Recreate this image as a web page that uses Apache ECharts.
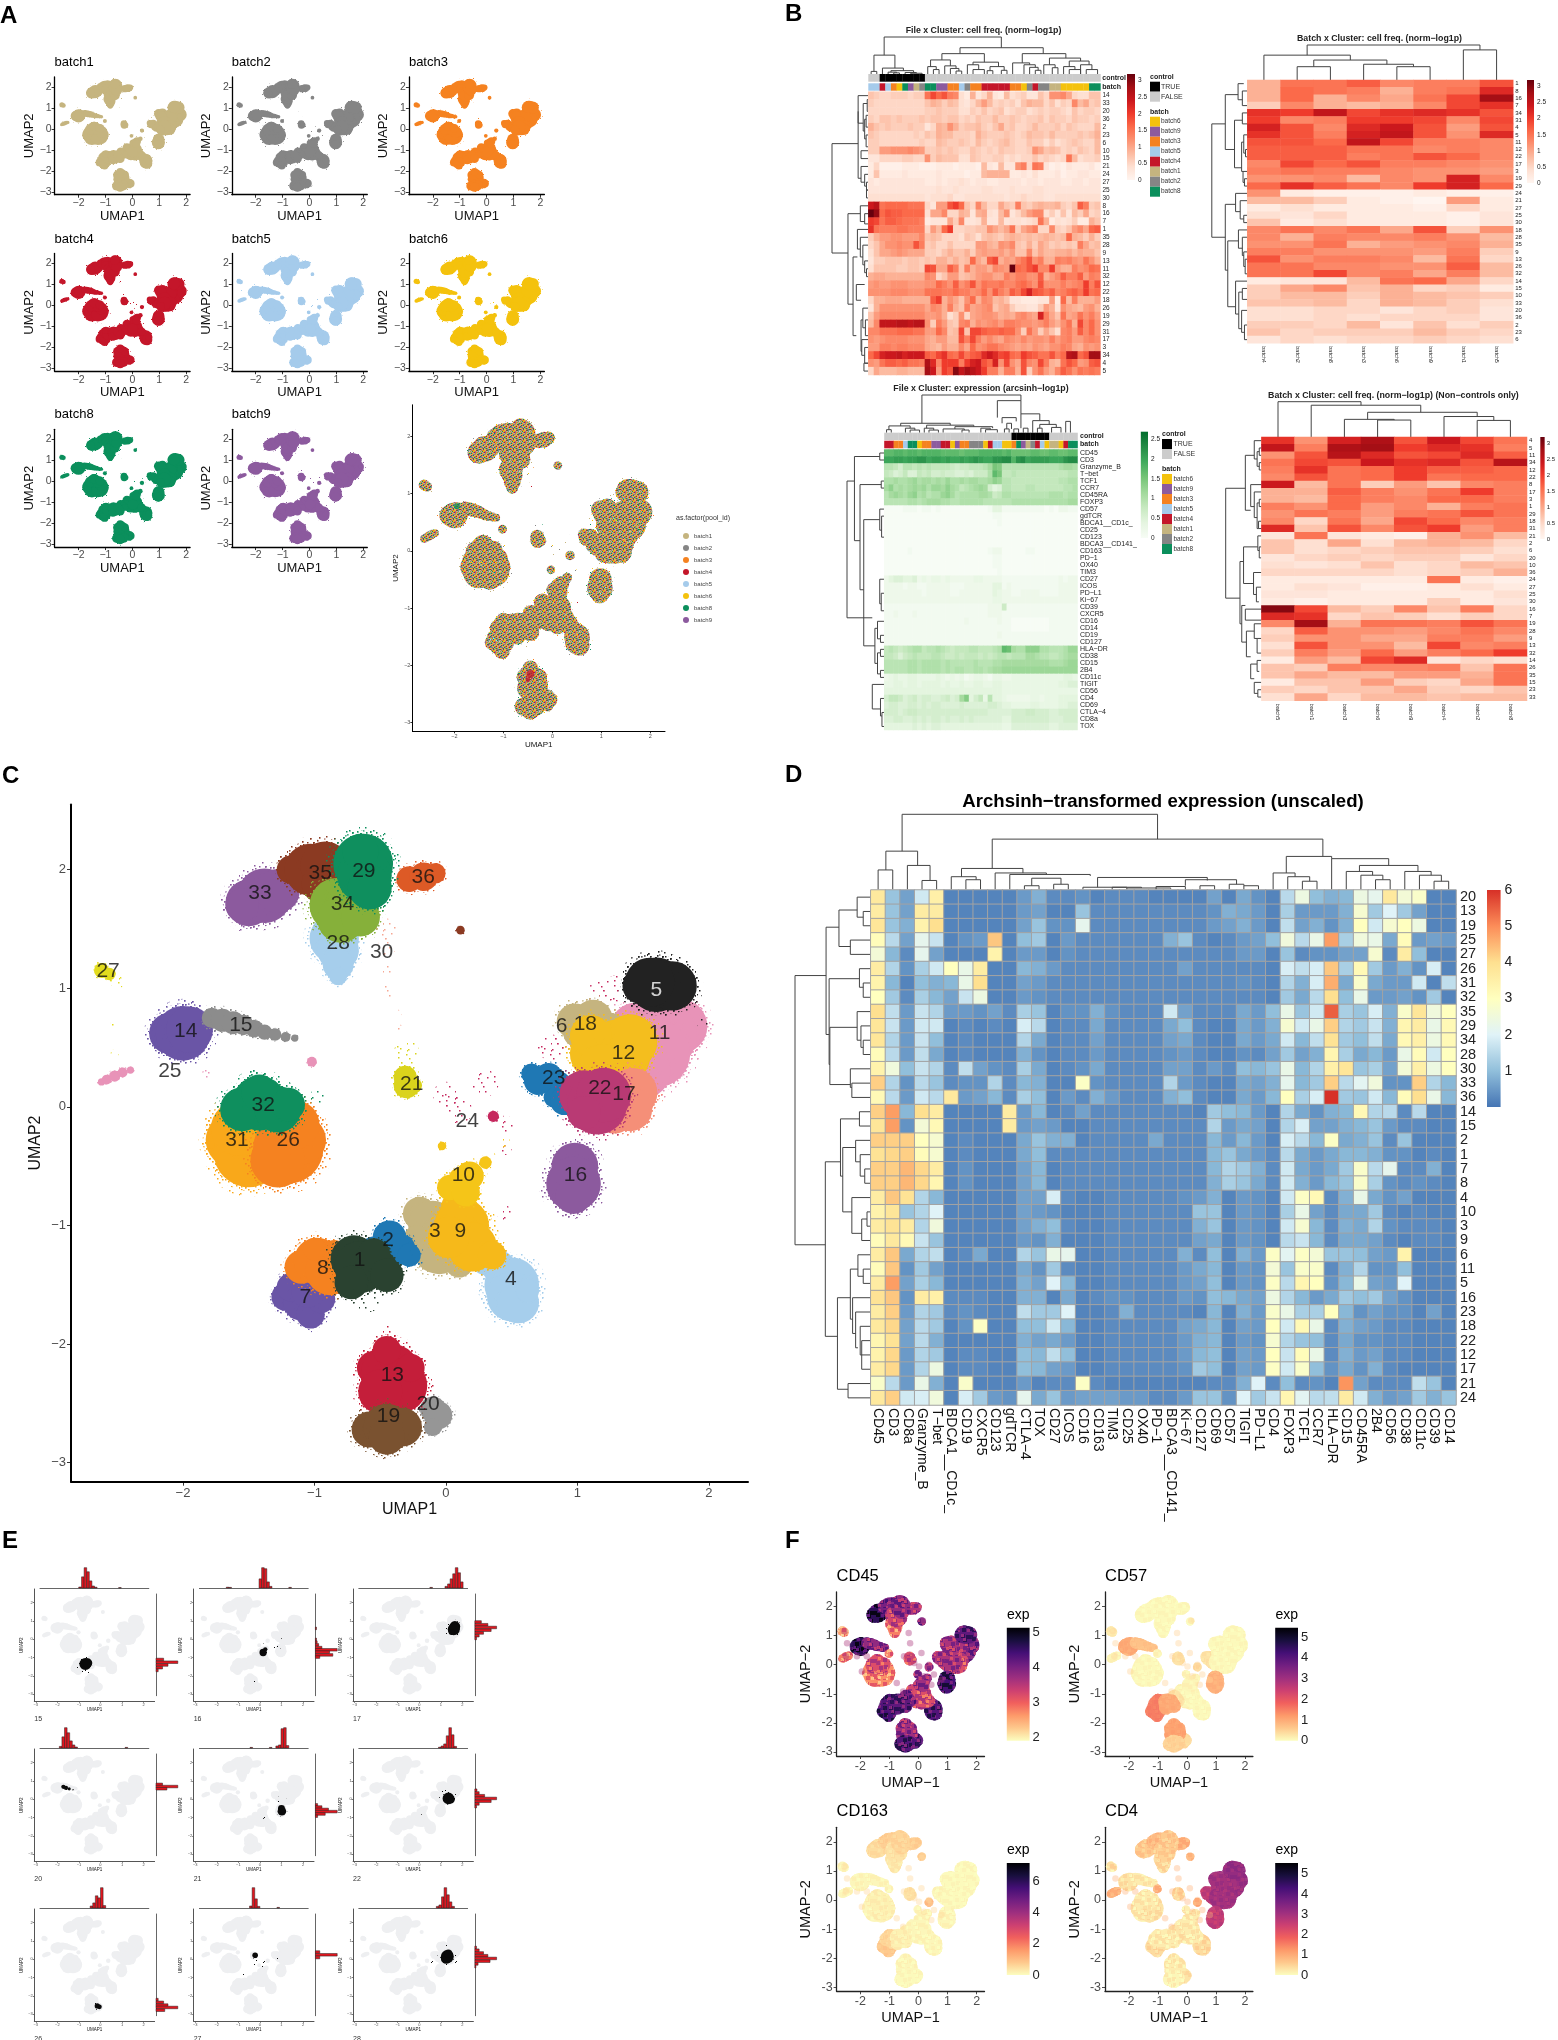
<!DOCTYPE html>
<html>
<head>
<meta charset="utf-8">
<title>UMAP panels</title>
<style>html,body{margin:0;background:#fff}#chart{width:1558px;height:2040px}</style>
<script src="https://cdn.jsdelivr.net/npm/echarts@6/dist/echarts.min.js"></script>
</head>
<body>
<div id="chart"></div>
<script>
// cluster outlines: x, y, radius in UMAP units, 1 = thin scatter only
var c1 = [[-.7,-1.28,.17],[-.65,-1.35,.19],[-.5,-1.35,.12],[-.72,-1.48,.12],[-.55,-1.25,.12],[-.45,-1.42,.12],[-.45,-1.5,.08,1],[-.6,-1.6,.12,1]];
var c2 = [[-.43,-1.1,.12],[-.35,-1.2,.11],[-.55,-1.2,.09],[-.28,-1.25,.08],[-.25,-1.28,.08,1]];
var c3 = [[-.2,-.9,.12],[-.1,-1,.18],[-.05,-1.18,.2],[.1,-1.32,.1],[-.22,-1.12,.1]];
var c4 = [[.3,-1.3,.1],[.4,-1.35,.12],[.5,-1.5,.2],[.5,-1.6,.18],[.55,-1.65,.15],[.62,-1.55,.08]];
var c5 = [[1.48,1.02,.13],[1.6,1.03,.2],[1.72,1.02,.18],[1.55,1.05,.18],[1.95,.7,.04,1]];
var c6 = [[.8,.5,.1,1],[.95,.6,.12,1],[1.17,.95,.1,1],[1.3,1,.1,1],[1.38,1.08,.05,1]];
var c7 = [[-1.22,-1.6,.1],[-1.1,-1.65,.13],[-1.03,-1.75,.1],[-.95,-1.62,.1],[-1.18,-1.52,.1],[-1.05,-1.55,.12]];
var c8 = [[-1.1,-1.35,.12],[-.98,-1.3,.17],[-.88,-1.38,.18],[-.85,-1.22,.08],[-1,-1.2,.08]];
var c9 = [[.1,-.85,.13],[.12,-1,.2],[.2,-1.18,.18],[.35,-1.25,.1],[.02,-1.1,.15]];
var c10 = [[.1,-.6,.07],[.18,-.58,.1],[.03,-.68,.09],[.15,-.72,.1],[.3,-.47,.04],[.35,-.42,.03,1],[.45,-.3,.04,1],[-.03,-.33,.025]];
var c11 = [[1.65,.75,.2],[1.78,.68,.2],[1.65,.6,.25],[1.6,.45,.25],[1.5,.3,.2],[1.45,.65,.2],[1.5,.22,.12]];
var c12 = [[1.15,.45,.2],[1.3,.45,.25],[1.4,.55,.2],[1.1,.6,.15],[1.2,.3,.2]];
var c13 = [[-.55,-2.2,.12],[-.42,-2.25,.22],[-.35,-2.35,.2],[-.5,-2.4,.16],[-.27,-2.2,.1],[-.45,-2.05,.1],[-.43,-1.9,.06,1]];
var c14 = [[-2.1,.62,.15],[-2,.62,.2],[-1.95,.65,.17]];
var c15 = [[-1.78,.75,.07],[-1.7,.73,.08],[-1.62,.71,.08],[-1.54,.69,.07],[-1.46,.66,.06],[-1.38,.63,.05],[-1.3,.61,.04],[-1.22,.59,.03],[-1.15,.58,.02]];
var c16 = [[.98,-.5,.17],[.97,-.65,.2],[.97,-.75,.13]];
var c17 = [[1.35,.05,.22],[1.42,.12,.18],[1.28,-.05,.15],[1.4,-.02,.16]];
var c18 = [[.98,.72,.13],[1.12,.74,.14],[1.25,.65,.12],[1,.62,.1]];
var c19 = [[-.58,-2.72,.13],[-.45,-2.7,.17],[-.33,-2.7,.14],[-.45,-2.78,.13]];
var c20 = [[-.1,-2.55,.09],[-.06,-2.6,.1],[-.1,-2.7,.06]];
var c21 = [[-.31,.25,.08],[-.3,.18,.09],[-.24,.18,.05],[-.3,.45,.1,1]];
var c22 = [[1.05,.1,.18],[1.15,.02,.22],[1.2,.1,.2],[1.05,-.05,.12]];
var c23 = [[.65,.28,.07],[.78,.25,.1],[.85,.18,.1],[.82,.08,.07],[.7,.22,.1],[.9,.05,.1]];
var c24 = [[.36,-.08,.035],[.1,-.03,.1,1],[.3,.2,.1,1],[.45,-.15,.07,1],[.45,-.35,.05,1],[.45,-.9,.06,1],[0,.1,.1,1]];
var c25 = [[-2.62,.21,.02],[-2.58,.23,.03],[-2.52,.26,.035],[-2.46,.29,.03],[-2.4,.31,.02],[-1.82,.27,.04,1],[-1.02,.38,.03]];
var c26 = [[-1.2,-.35,.26],[-1.1,-.28,.18],[-1.28,-.45,.2],[-1.15,-.15,.18]];
var c27 = [[-2.62,1.15,.05],[-2.56,1.12,.04],[-2.5,1.05,.05,1],[-2.52,.7,.03,1],[-2.52,.45,.03,1]];
var c28 = [[-.85,1.42,.18],[-.82,1.32,.15],[-.82,1.2,.11],[-.82,1.1,.06]];
var c29 = [[-.63,2.05,.22],[-.62,1.95,.2],[-.58,1.85,.16],[-.65,2.15,.13]];
var c30 = [[-.45,1.5,.08,1],[-.45,1.35,.07,1],[-.45,1.15,.05,1],[-.43,.98,.05,1],[-.38,.78,.04,1],[-.35,.66,.03,1]];
var c31 = [[-1.62,-.28,.2],[-1.5,-.38,.26],[-1.58,-.18,.2],[-1.45,-.15,.2]];
var c32 = [[-1.42,.03,.2],[-1.55,-.02,.16],[-1.28,-.02,.17],[-1.42,.12,.13],[-1.2,.02,.12],[-.98,.08,.06,1]];
var c33 = [[-1.5,1.72,.17],[-1.38,1.78,.2],[-1.28,1.82,.16],[-1.55,1.7,.12]];
var c34 = [[-.83,1.7,.2],[-.72,1.68,.2],[-.8,1.58,.17],[-.65,1.6,.14]];
var c35 = [[-1.18,2,.1],[-1.03,2,.19],[-.92,2.03,.18],[-.95,1.88,.14],[.11,1.49,.025]];
var c36 = [[-.28,1.92,.09],[-.17,1.94,.1],[-.08,1.97,.07]];
var clusterBlobs = [c1,c2,c3,c4,c5,c6,c7,c8,c9,c10,c11,c12,c13,c14,c15,c16,c17,c18,c19,c20,c21,c22,c23,c24,c25,c26,c27,c28,c29,c30,c31,c32,c33,c34,c35,c36];
var drawOrder = [28,33,35,36,34,29,30,27,14,15,25,31,26,32,21,24,11,6,23,18,12,17,22,5,16,4,3,9,10,7,8,2,1,20,13,19];
var clusterColors = ['#2A4230','#1F78B4','#C5B47F','#A6CEEC','#222222','#C6285E','#6A55A6','#F58220','#F6B91A','#F5C518','#E893B8','#F4BE1E','#C41E3A','#6A55A6','#8C8C8C','#8C5A9E','#F58F78','#C5B47F','#7A5230','#969696','#DAD31C','#B93A74','#1F78B4','#C6285E','#E893B8','#F58220','#E3DC1E','#A6CEEC','#0F8F5E','#F6A793','#F9A81A','#0F8F5E','#8C5A9E','#86B03A','#8B3A22','#DD5A26'];
var clusterLabels = [[-2.57,1.14,'27'],[-1.98,.64,'14'],[-1.56,.69,'15'],[-2.1,.3,'25'],[-1.415,1.8,'33'],[-.956,1.97,'35'],[-.625,1.99,'29'],[-.787,1.71,'34'],[-.173,1.94,'36'],[-.82,1.38,'28'],[-.49,1.3,'30'],[-1.39,.016,'32'],[-1.59,-.285,'31'],[-1.2,-.277,'26'],[-.26,.187,'21'],[.162,-.122,'24'],[.879,.676,'6'],[1.06,.696,'18'],[1.625,.62,'11'],[1.35,.456,'12'],[.82,.24,'23'],[1.17,.159,'22'],[1.353,.106,'17'],[.985,-.578,'16'],[.132,-.578,'10'],[-.085,-1.05,'3'],[.11,-1.05,'9'],[-.44,-1.12,'2'],[-.658,-1.295,'1'],[-.9375,-1.364,'8'],[-1.07,-1.608,'7'],[.493,-1.45,'4'],[-.408,-2.26,'13'],[-.4375,-2.61,'19'],[-.136,-2.504,'20']];
var clusterLabelsWhite = [[1.6,.98,'5']];

var batchNames = ['batch1','batch2','batch3','batch4','batch5','batch6','batch8','batch9'];
var batchColors = ['#C5B47F','#858585','#F58220','#C4162A','#A5CBEB','#F4C20D','#0B8F5C','#8C5A9E'];
var legendOrder = [5,7,2,4,3,0,1,6];
// patches where one batch shows through in the merged plot
var spot1 = [[-.6,1.9,.1,1]];
var spot2 = [[1.5,.9,.12,1]];
var spot3 = [[1.75,.6,.18,1],[1.78,.6,.1,1]];
var spot4 = [[-.45,-2.15,.08],[-.5,-2.25,.05],[-.4,1.1,.05,1],[-.42,.9,.04,1],[.5,-.9,.06,1]];
var spot5 = [[-1.2,-1.55,.08,1],[1.05,-.7,.1,1]];
var spot6 = [[-1.75,.6,.06,1]];
var spot8 = [[-1.95,.78,.06],[-1.85,.78,.08,1]];
var spot9 = [[1.3,.3,.1,1]];
var batchSpots = [spot1,spot2,spot3,spot4,spot5,spot6,spot8,spot9];

// panel B, file x cluster frequency (tenths)
var freqFileRows = ['14','33','20','36','2','23','6','10','15','21','24','27','25','30','8','16','7','1','35','28','9','13','11','32','12','22','18','26','19','29','31','17','3','34','4','5'];
var freqFile = [
[7,6,5,5,6,6,6,5,6,6,15,19,16,18,14,13,4,2,9,3,5,9,3,2,8,4,5,6,3,3,7,5,12,12,13,10,5,4,4,7,7],
[6,5,5,5,5,5,5,5,5,5,7,9,8,6,8,7,4,3,5,8,11,8,5,6,5,6,4,7,9,8,8,5,7,4,6,5,13,8,10,6,7],
[5,5,5,5,5,5,5,5,5,5,6,6,7,6,6,6,4,4,6,5,7,5,6,7,4,5,6,6,4,5,6,5,6,6,5,4,7,5,6,6,5],
[6,5,7,7,6,7,6,6,6,7,6,7,7,6,7,7,5,6,5,7,6,6,8,6,6,7,6,5,6,6,7,5,7,6,6,5,7,6,6,5,6],
[9,7,6,7,6,6,6,7,6,6,3,5,9,8,12,9,6,7,7,8,6,5,7,10,6,7,5,5,6,8,6,6,6,7,5,7,6,5,5,5,8],
[7,6,5,5,5,5,5,5,6,5,7,6,9,8,8,6,6,6,5,9,7,6,6,6,7,6,5,6,8,7,7,6,8,6,6,6,6,7,6,7,9],
[6,6,5,5,5,5,5,5,5,6,5,5,8,7,6,6,7,6,5,8,6,5,6,7,8,6,5,5,7,6,6,4,6,4,5,6,7,6,5,5,8],
[6,6,11,11,12,12,12,13,12,11,6,6,7,6,7,6,5,5,7,6,5,6,5,7,6,6,5,5,6,12,10,7,8,7,5,6,5,7,6,5,8],
[3,3,5,5,5,5,6,6,5,5,12,6,8,7,7,7,4,4,7,6,5,5,6,6,4,5,4,5,5,7,5,6,5,4,5,15,8,4,5,5,6],
[2,5,1,1,1,1,2,2,2,1,1,1,2,2,2,1,2,2,2,1,8,3,2,8,3,3,12,14,5,15,14,3,1,2,1,3,2,2,2,3,1],
[2,7,2,2,2,2,3,2,2,2,2,2,3,2,2,2,2,1,2,2,8,9,9,9,9,2,2,3,2,4,2,2,2,3,1,2,2,3,3,2,2],
[3,2,3,3,3,3,3,3,3,3,2,2,3,2,3,3,4,3,2,3,3,2,2,3,3,3,3,2,3,3,2,3,3,3,2,2,3,3,2,3,3],
[3,3,3,3,3,3,3,3,3,3,3,3,4,3,3,4,3,3,3,3,4,4,3,3,3,4,3,3,3,4,4,3,3,3,3,3,3,3,3,3,3],
[4,4,4,4,4,4,4,4,4,4,3,4,4,4,5,3,3,4,4,4,4,4,4,4,3,4,4,5,4,4,4,3,3,4,4,4,4,4,4,4,4],
[24,26,15,16,16,16,16,15,15,15,5,3,11,11,18,20,16,7,5,13,8,5,5,10,7,6,14,7,6,8,9,8,8,9,6,5,7,17,14,6,7],
[32,29,16,18,17,17,16,16,16,16,4,10,10,13,5,5,9,8,3,9,10,4,3,8,12,3,5,8,11,13,13,4,6,3,7,3,8,6,10,5,6],
[20,19,15,17,17,16,15,15,15,14,2,3,3,3,10,6,13,3,3,4,9,3,3,8,3,4,4,3,4,5,15,9,2,4,3,4,6,2,2,9,7],
[21,15,14,14,14,15,15,14,14,14,5,11,8,16,20,5,5,6,6,7,7,12,10,8,10,15,6,10,12,14,5,5,13,6,5,7,11,13,10,16,17],
[6,9,11,11,12,12,11,11,11,13,7,8,7,5,5,5,4,7,6,4,7,8,7,6,8,9,8,7,8,7,8,9,8,7,8,16,9,8,6,9,6],
[5,7,10,12,12,13,12,12,18,14,6,7,5,5,7,5,5,5,5,11,11,9,8,12,11,13,7,6,9,6,10,8,6,7,6,7,6,14,10,7,8],
[4,7,10,10,11,12,11,10,10,10,6,6,5,7,9,7,7,9,6,10,11,10,10,11,9,11,7,7,13,7,10,8,8,9,9,10,8,10,9,9,7],
[3,6,6,7,7,7,6,7,7,6,7,6,9,9,7,9,7,8,16,10,8,17,19,9,11,10,13,15,18,12,14,9,9,14,13,14,12,11,15,12,9],
[4,7,7,7,7,6,6,7,7,6,19,18,10,10,17,14,7,14,9,11,11,9,13,12,11,32,16,15,18,20,13,13,20,11,9,9,14,12,13,16,15],
[9,10,10,9,9,9,9,9,9,9,13,12,5,7,11,11,7,8,9,11,12,12,10,10,14,12,14,14,12,12,17,9,11,13,17,14,14,17,11,14,13],
[11,12,11,11,12,12,12,11,11,11,12,12,16,14,12,17,12,14,18,12,15,14,14,15,13,13,15,16,14,12,18,12,12,12,14,12,13,14,20,14,18],
[12,12,12,12,13,13,13,12,12,12,15,15,15,14,14,16,14,14,12,13,16,12,17,14,12,17,15,19,23,18,17,15,17,13,14,16,17,15,20,15,16],
[5,9,9,10,10,10,9,9,9,9,9,17,20,9,12,10,7,12,16,9,13,12,8,9,7,3,3,2,2,2,3,3,11,2,16,8,14,9,9,9,11],
[3,9,12,12,12,12,12,12,12,12,10,13,12,9,14,9,7,14,10,11,12,13,7,9,10,6,4,4,3,3,6,11,9,3,12,10,9,8,11,12,9],
[7,11,13,13,13,13,13,13,13,13,11,11,12,9,4,6,12,5,10,11,12,12,11,9,10,9,12,13,11,10,23,14,10,7,15,10,11,15,12,14,11],
[8,13,25,25,25,26,26,25,26,26,12,6,14,11,7,6,13,14,9,12,11,12,13,11,14,14,13,12,12,11,12,14,11,9,12,15,9,19,13,16,12],
[13,13,15,15,15,16,16,16,15,15,11,11,16,13,7,8,19,7,19,19,17,16,16,17,16,16,12,6,15,11,6,10,7,4,13,14,11,17,13,16,12],
[12,11,12,13,13,13,13,12,12,12,10,9,11,11,8,8,18,14,19,14,11,13,11,10,13,12,11,13,11,12,12,11,14,11,13,14,11,11,13,14,13],
[11,11,14,14,13,14,14,13,13,13,10,9,8,11,9,9,13,10,16,12,13,15,15,13,12,11,10,11,10,12,11,10,12,12,14,13,10,9,12,11,12],
[16,19,23,24,24,25,23,24,24,24,17,16,19,21,16,15,19,15,17,18,22,24,22,19,20,16,15,20,18,17,15,15,18,14,16,26,27,16,18,28,28],
[12,11,15,17,17,16,17,15,15,14,27,22,13,20,20,20,14,20,23,24,18,16,23,12,19,12,10,18,13,12,19,14,9,8,15,18,16,11,12,17,18],
[5,10,8,8,8,9,9,8,8,8,28,24,11,20,18,30,25,28,26,24,20,14,14,9,14,14,9,18,6,12,15,11,9,13,17,15,12,15,14,15,14]];
var freqFileControl = [0,0,1,1,1,1,1,1,1,1,0,0,0,0,0,0,0,0,0,0,0,0,0,0,0,0,0,0,0,0,0,0,0,0,0,0,0,0,0,0,0];
var freqFileBatch = [4,4,3,4,2,5,6,7,0,1,6,6,7,7,2,2,4,1,2,2,3,3,3,3,3,2,2,5,1,3,1,1,0,0,5,5,5,5,5,6,6];

var freqBatchRows = ['1','8','16','7','34','31','4','5','11','12','22','17','3','19','29','24','21','27','25','30','18','28','35','9','13','26','32','14','15','10','33','20','36','2','23','6'];
var freqBatchCols = ['batch4','batch2','batch8','batch3','batch6','batch9','batch1','batch5'];
var freqBatch = [[9,15,15,17,13,14,14,18],[9,16,15,14,9,14,15,22],[9,16,9,13,10,15,19,28],[6,13,9,8,9,13,19,21],[21,20,25,19,21,22,21,18],[20,13,14,20,20,19,13,19],[23,18,13,22,24,18,11,18],[21,18,14,23,25,18,12,22],[18,18,16,25,19,14,14,13],[17,17,17,15,15,13,14,13],[17,17,17,14,15,18,16,13],[13,19,16,18,14,14,13,12],[14,15,14,14,13,12,12,11],[12,12,13,8,13,12,23,13],[16,21,17,15,13,20,23,16],[12,2,1,1,1,2,1,1],[8,8,6,2,1,0,11,2],[2,4,2,2,2,1,5,2],[4,3,5,2,2,2,1,3],[7,2,4,2,2,2,1,3],[13,15,13,15,10,18,6,12],[13,9,14,13,13,14,12,8],[12,12,15,9,11,12,13,9],[14,14,12,12,12,11,14,6],[18,12,14,14,13,8,15,5],[15,15,13,13,12,12,17,8],[15,15,19,13,14,10,14,8],[2,3,3,8,15,16,10,5],[6,10,13,7,9,5,6,2],[6,8,8,6,9,8,7,6],[7,7,8,5,9,8,6,4],[4,4,5,5,3,5,6,3],[4,4,5,4,5,5,5,3],[6,6,5,8,3,7,4,6],[7,5,6,6,6,8,6,5],[3,5,4,5,5,6,5,4]];

var freqNcRows = ['4','5','11','34','12','22','8','17','3','1','29','18','31','21','2','6','20','10','36','24','27','25','30','16','7','19','28','9','13','32','14','26','35','15','23','33'];
var freqNcCols = ['batch5','batch1','batch3','batch6','batch9','batch4','batch2','batch8'];
var freqNc = [[21,12,23,27,18,24,19,15],[25,14,27,28,20,22,21,14],[12,18,26,22,18,19,22,17],[15,19,18,24,21,22,18,26],[14,21,15,16,20,17,17,16],[13,18,15,16,20,15,16,16],[24,8,15,6,11,7,13,14],[9,9,17,14,12,15,20,14],[9,8,16,14,13,16,16,14],[14,12,16,11,13,9,14,15],[12,15,14,11,14,15,18,15],[13,5,15,10,19,16,13,14],[22,7,18,13,18,20,11,14],[3,15,3,2,1,9,12,8],[7,4,10,4,8,9,8,5],[7,4,5,6,7,7,6,4],[3,5,6,5,6,6,3,5],[4,3,4,7,4,5,8,7],[5,5,5,5,4,5,6,9],[2,2,2,2,2,15,2,1],[2,4,3,1,1,2,4,2],[3,3,2,2,2,2,2,4],[2,1,2,2,2,6,2,3],[30,19,8,6,13,7,14,5],[22,21,5,7,6,4,6,5],[13,28,9,15,15,14,18,15],[5,17,12,12,11,13,15,13],[6,12,12,10,10,14,14,11],[4,18,12,12,8,19,13,14],[6,14,11,16,11,14,16,20],[2,11,8,19,22,3,5,4],[7,6,14,13,13,14,7,15],[7,10,8,8,11,11,9,15],[2,7,7,11,6,5,10,15],[6,5,7,7,10,6,5,7],[4,10,5,8,8,7,8,8]];

var exprFileRows = ['CD45','CD3','Granzyme_B','T-bet','TCF1','CCR7','CD45RA','FOXP3','CD57','gdTCR','BDCA1__CD1c_','CD25','CD123','BDCA3__CD141_','CD163','PD-1','OX40','TIM3','CD27','ICOS','PD-L1','Ki-67','CD39','CXCR5','CD16','CD14','CD19','CD127','HLA-DR','CD38','CD15','2B4','CD11c','TIGIT','CD56','CD4','CD69','CTLA-4','CD8a','TOX'].map(function(s){return s.replace('-','\u2212');});
var exprFile = [
[17,17,18,18,17,18,18,17,18,18,18,18,17,17,17,17,16,17,17,17,18,18,18,18,18,17,18,16,16,16,16,17,17,16,16,17,17,16,16,17,17],
[20,20,21,21,20,21,21,22,22,20,21,21,20,21,20,20,21,20,21,22,21,20,20,22,22,23,23,18,22,23,20,21,21,21,21,20,20,20,22,23,23],
[9,9,8,6,9,9,8,9,8,9,8,8,8,8,7,6,7,7,8,8,8,9,11,15,14,9,9,9,9,9,9,9,9,9,9,9,9,10,11,11,10],
[8,7,5,6,8,5,5,8,7,8,6,6,7,6,6,5,5,6,5,7,7,7,10,17,15,8,8,9,8,8,8,8,8,8,8,8,8,8,8,9,9],
[10,10,11,10,10,11,12,10,11,11,10,11,10,12,10,10,11,10,11,11,10,10,11,13,12,9,9,8,8,8,8,8,8,8,8,8,8,9,9,10,10],
[11,13,10,11,10,11,12,11,12,10,12,12,11,13,11,10,8,9,10,11,12,11,6,4,5,9,9,8,8,8,9,9,8,8,8,8,8,8,9,9,10],
[9,11,12,11,10,12,13,10,11,9,10,10,12,13,11,9,10,10,10,10,11,11,10,7,8,10,10,9,9,9,9,9,9,9,9,10,10,10,9,10,10],
[9,9,9,9,9,10,10,9,10,11,11,11,10,10,9,9,10,10,10,10,10,9,9,9,9,9,9,10,10,10,10,10,10,10,10,10,10,10,10,11,11],
[0,0,0,0,1,1,1,0,1,1,0,1,0,0,0,0,0,0,0,0,0,0,1,4,4,1,1,1,1,1,1,1,1,1,0,1,0,2,2,1,1],
[0,0,0,0,0,0,0,0,0,0,0,0,0,0,0,0,0,0,0,0,0,0,0,1,1,0,0,0,0,0,0,0,0,0,0,0,0,0,0,0,0],
[0,0,0,0,0,0,0,0,0,0,0,0,0,0,0,0,0,0,0,0,0,0,0,0,1,0,0,0,0,0,0,0,0,0,0,0,0,0,0,0,0],
[0,0,0,0,0,0,0,0,0,0,0,0,0,0,0,0,0,0,0,0,0,0,0,0,0,0,0,0,0,0,0,0,0,0,0,0,0,0,0,0,0],
[0,0,0,0,0,0,0,0,0,0,0,0,0,0,0,0,0,0,0,0,0,0,0,0,0,0,0,0,0,0,0,0,0,0,0,0,0,0,0,0,0],
[0,0,0,0,0,0,0,0,0,0,0,0,0,0,0,0,0,0,0,0,0,0,0,0,0,0,0,0,0,0,0,0,0,0,0,0,0,0,0,0,0],
[0,0,0,0,0,1,0,0,0,0,0,0,0,0,0,0,0,0,0,0,0,0,1,2,2,0,0,0,0,0,1,1,0,0,0,0,0,0,0,0,0],
[0,0,0,0,0,0,0,0,0,0,0,0,0,0,0,0,0,0,0,0,0,0,0,1,1,0,0,0,0,0,0,0,0,0,0,0,0,0,0,0,0],
[0,0,0,0,0,0,0,0,0,0,0,0,0,0,0,0,0,0,0,0,0,0,0,1,1,0,0,0,0,0,0,0,0,0,0,0,0,0,0,0,0],
[0,0,0,0,0,0,0,0,0,0,0,0,0,0,0,0,0,0,0,0,0,0,0,0,1,0,0,0,0,0,0,0,0,0,0,0,0,0,0,0,0],
[2,4,5,5,4,4,5,2,3,2,3,3,2,3,2,2,2,2,2,3,3,2,2,2,2,1,1,1,1,1,1,1,1,1,1,1,1,2,1,2,2],
[2,2,2,2,1,2,2,1,1,2,2,2,2,2,1,1,1,2,2,2,2,2,2,4,4,1,2,1,1,1,1,1,1,1,1,1,1,2,2,2,2],
[2,2,2,2,2,2,2,2,1,2,2,2,2,2,1,1,2,2,2,2,2,2,2,4,3,2,2,1,1,2,2,2,2,1,1,1,1,2,2,2,2],
[2,2,2,2,2,2,2,2,2,2,2,2,2,2,2,2,2,2,2,2,2,2,2,3,3,2,2,2,2,2,2,2,2,2,2,2,2,2,2,2,2],
[1,1,1,1,1,1,1,1,1,1,1,1,1,1,1,1,1,1,1,1,1,1,2,2,2,7,1,1,1,1,1,1,1,1,1,1,1,1,1,1,1],
[1,1,2,1,1,1,2,1,1,1,1,1,1,1,1,1,1,1,1,1,1,1,2,2,2,1,1,1,1,1,1,1,1,1,1,1,1,1,1,1,1],
[1,1,1,1,1,1,1,1,1,1,1,1,1,1,1,1,1,2,1,1,1,1,1,1,2,1,1,0,0,0,0,0,0,0,0,1,1,1,1,1,1],
[1,1,1,1,1,1,1,1,1,1,1,1,1,1,1,1,1,1,1,1,1,1,1,1,1,1,1,0,0,0,0,0,0,0,0,1,1,1,1,1,1],
[1,1,1,1,1,1,1,1,1,1,1,1,1,1,1,1,1,1,1,1,1,1,1,1,2,1,1,1,1,1,1,1,1,1,1,1,1,1,1,1,1],
[1,1,1,1,1,1,1,1,1,1,1,1,1,1,1,1,1,1,1,1,1,1,1,1,1,1,1,1,1,1,1,1,1,1,1,1,1,1,1,1,1],
[8,9,8,7,8,9,10,10,8,9,9,10,9,8,7,8,8,8,9,9,8,8,8,9,10,17,16,11,10,10,13,13,13,10,10,9,9,9,10,12,12],
[8,8,7,5,7,8,9,8,8,8,9,9,8,7,7,8,7,8,8,8,7,8,7,8,9,9,8,9,9,9,11,11,10,9,9,8,8,9,10,11,11],
[9,9,9,9,9,10,10,9,10,10,10,10,9,10,9,9,9,9,9,10,9,9,9,10,10,11,11,11,11,11,11,11,11,11,11,10,10,10,11,12,12],
[9,9,9,9,9,10,10,9,10,10,10,10,9,10,9,10,10,9,9,10,10,9,10,11,11,12,12,12,12,12,12,12,12,12,12,12,12,12,12,12,12],
[2,3,4,3,3,4,4,3,3,3,3,4,3,2,3,2,3,1,2,3,3,2,1,3,3,2,2,3,3,3,3,3,3,3,3,3,3,3,4,4,3],
[3,3,4,4,3,4,4,3,4,4,4,4,3,4,3,3,4,3,3,4,4,3,3,4,4,3,3,3,3,3,3,3,3,3,3,3,3,4,4,5,5],
[4,4,4,4,4,4,4,4,4,4,4,4,4,4,4,4,4,4,4,4,4,4,4,4,4,3,3,3,3,3,3,3,3,3,3,3,3,3,3,3,3],
[6,8,8,7,5,6,7,5,6,6,5,5,6,7,5,6,11,14,4,6,8,3,9,4,4,3,2,2,2,2,2,3,3,2,3,3,3,4,4,4,4],
[5,6,6,5,5,6,6,5,6,5,6,6,5,5,5,5,6,5,5,5,5,5,6,6,5,4,4,3,3,3,3,4,4,3,3,3,3,4,4,5,5],
[6,6,6,5,6,7,7,6,6,6,6,6,6,6,6,6,6,6,6,6,6,6,5,5,5,5,5,6,6,6,7,7,6,6,6,5,5,6,6,6,6],
[5,5,6,6,5,5,6,5,6,5,6,6,5,6,5,5,6,5,6,5,5,5,5,5,5,4,4,6,6,6,6,6,6,6,6,5,5,5,6,6,6],
[4,4,4,4,4,4,5,4,5,4,5,5,4,4,4,4,4,4,4,4,4,4,4,4,4,3,3,5,5,5,5,5,5,5,5,4,4,5,5,5,5]];
var exprFileControl = [0,0,0,0,0,0,0,0,0,0,0,0,0,0,0,0,0,0,0,0,0,0,0,0,0,0,0,1,1,1,1,1,1,1,1,0,0,0,0,0,0];
var exprFileBatch = [3,3,2,2,4,6,6,5,2,2,7,7,3,3,5,7,2,2,1,1,1,5,3,4,4,5,5,2,6,7,0,1,3,4,5,0,0,5,3,6,6];

// panel D, cluster x marker expression (tenths)
var exprRows = ['20','13','19','25','27','26','31','32','35','29','34','28','30','33','36','14','15','2','1','7','8','4','10','3','9','6','11','5','16','23','18','22','12','17','21','24'];
var exprCols = ['CD45','CD3','CD8a','Granzyme_B','T\u2212bet','BDCA1__CD1c_','CD19','CXCR5','CD123','gdTCR','CTLA\u22124','TOX','CD27','ICOS','CD16','CD163','TIM3','CD25','OX40','PD\u22121','BDCA3__CD141_','Ki\u221267','CD127','CD69','CD57','TIGIT','PD\u2212L1','CD4','FOXP3','TCF1','CCR7','HLA\u2212DR','CD15','CD45RA','2B4','CD56','CD38','CD11c','CD39','CD14'];
var exprCluster = [
[37,11,6,18,35,2,2,2,2,2,5,8,3,3,4,2,3,3,3,2,2,2,2,6,2,7,4,2,15,24,10,8,9,24,22,37,26,28,2,2],
[36,11,6,36,36,2,2,2,2,2,5,6,2,2,11,3,3,3,3,3,3,3,3,4,8,7,5,2,13,5,5,5,8,27,12,20,12,6,2,2],
[38,11,8,34,40,2,2,2,2,2,6,11,4,4,22,3,3,3,3,3,3,3,3,5,6,8,5,2,16,6,8,4,8,30,18,27,30,24,2,2],
[31,15,6,22,17,2,4,5,43,2,10,12,2,5,3,3,3,3,3,3,8,11,3,2,3,5,6,10,25,15,23,48,13,25,23,7,31,5,6,5],
[26,9,3,22,6,2,2,2,34,2,5,5,2,4,3,3,3,3,3,3,3,3,3,3,3,5,5,2,11,3,4,4,6,6,27,3,36,10,2,2],
[36,14,4,13,18,30,23,36,2,2,9,8,5,3,3,3,3,3,3,3,3,6,3,3,3,3,3,2,19,16,19,43,13,32,12,5,8,4,19,2],
[34,9,2,10,8,9,23,40,2,2,6,5,3,3,3,3,3,3,3,3,3,3,3,3,3,4,3,2,14,8,19,46,7,28,7,5,5,18,2,16],
[30,12,3,13,9,6,17,24,2,2,5,4,3,3,3,3,3,3,3,3,3,3,3,3,3,3,3,2,12,7,15,40,10,23,5,5,6,4,12,2],
[40,16,5,17,14,5,5,4,6,3,13,11,2,4,4,8,4,3,3,3,18,6,3,3,3,7,5,10,23,11,18,55,13,11,19,8,28,38,25,30],
[38,17,5,18,18,2,3,2,3,2,19,15,2,3,3,7,3,3,3,3,7,10,3,2,2,7,5,8,27,18,23,42,14,12,17,8,33,36,23,32],
[38,14,5,17,10,2,3,2,2,2,14,7,2,3,3,6,3,3,3,3,6,7,3,2,2,7,5,7,18,9,16,39,12,10,16,7,32,35,24,32],
[31,15,5,16,7,2,3,2,2,2,8,4,2,3,3,5,3,3,3,3,4,5,3,2,2,4,3,6,12,6,8,33,13,7,9,5,23,31,18,30],
[34,25,10,17,14,3,16,6,4,3,13,7,2,3,4,7,3,3,3,3,6,6,3,5,3,10,9,11,23,9,14,35,38,11,13,6,26,35,24,30],
[42,14,4,15,11,3,4,4,14,3,9,8,2,2,29,4,3,3,3,3,14,5,3,2,2,7,6,8,22,9,12,42,15,21,25,4,4,42,14,9],
[32,15,5,18,15,37,5,6,9,3,13,10,2,5,3,8,5,3,3,3,8,10,3,2,2,7,5,9,30,13,19,60,12,11,18,9,31,40,23,9],
[42,48,9,40,36,2,2,2,2,36,5,9,2,3,6,3,3,3,3,3,3,3,2,12,10,9,5,2,14,7,4,8,9,32,14,15,3,15,2,2],
[38,48,4,26,32,2,2,2,2,36,5,6,5,2,2,3,3,3,3,3,3,3,3,14,5,7,6,2,14,19,6,6,8,9,11,5,3,3,2,2],
[42,42,42,30,27,2,3,2,2,2,7,11,8,8,2,3,3,3,3,7,3,3,3,9,5,9,5,2,19,15,9,29,7,8,11,3,11,2,2,2],
[39,41,42,31,27,2,3,2,2,2,7,10,3,3,3,3,3,3,3,3,3,3,3,9,11,7,5,3,15,7,5,7,9,9,8,4,4,2,3,2],
[42,42,45,41,36,2,4,2,2,2,6,9,2,3,3,3,3,3,3,3,3,3,3,9,14,12,8,3,18,7,5,7,12,28,15,22,3,3,8,2],
[42,42,45,41,33,2,4,2,2,2,6,9,2,3,3,3,3,3,3,3,3,3,3,8,13,11,7,3,18,8,5,9,11,28,13,4,3,4,3,2],
[36,43,39,14,9,2,2,2,2,2,6,6,19,3,2,2,3,3,3,3,3,4,5,8,2,5,4,2,18,29,32,3,8,23,7,4,6,2,2,2],
[34,38,11,14,20,2,2,2,2,2,6,5,4,2,2,2,3,3,3,3,3,3,11,11,2,5,4,2,13,23,6,3,7,7,12,3,2,3,2,2],
[36,39,36,14,25,2,2,2,2,2,6,8,10,3,2,2,3,3,3,3,3,3,8,11,2,5,4,2,18,27,9,3,8,7,14,4,3,3,3,2],
[31,37,32,17,11,2,2,2,2,2,5,4,8,2,2,2,3,3,3,3,3,3,6,7,2,5,4,2,15,17,9,3,7,7,6,3,2,3,3,2],
[36,43,7,14,16,2,3,7,2,2,14,11,23,22,2,2,3,3,3,3,3,8,3,10,2,8,5,29,21,29,26,11,11,10,6,5,34,2,2,2],
[31,43,4,12,6,2,2,2,2,2,7,4,12,3,2,2,3,3,3,3,3,5,7,9,2,5,4,26,11,28,28,3,8,14,4,4,10,2,2,2],
[36,48,6,13,9,2,2,2,2,2,8,6,20,9,2,2,3,3,3,3,3,5,6,10,2,5,4,29,15,33,30,4,9,23,6,5,20,2,2,2],
[39,43,4,36,35,3,3,3,2,2,8,8,2,7,2,3,4,4,3,3,3,5,4,10,9,7,6,24,14,9,5,7,12,10,12,6,4,2,2,2],
[36,42,5,14,12,3,4,3,2,2,16,12,12,20,2,2,3,8,3,3,3,3,2,9,2,8,5,28,23,13,13,30,9,4,6,4,4,2,6,2],
[37,41,6,15,12,2,4,29,2,2,10,10,18,9,2,2,3,3,3,3,3,6,7,9,2,6,5,30,18,32,23,3,8,6,5,3,3,2,2,2],
[33,39,6,15,8,2,2,2,2,2,8,6,7,5,2,2,3,3,3,3,3,5,8,9,2,5,4,27,14,11,10,3,7,4,4,3,3,2,2,2],
[34,41,5,14,12,2,3,3,2,2,10,9,16,10,2,2,3,3,3,3,3,5,9,10,2,6,5,30,17,31,23,3,8,5,6,3,3,2,2,2],
[36,41,5,14,24,2,3,3,2,2,10,9,6,5,2,2,3,3,3,3,3,4,12,10,2,6,5,29,18,28,10,4,7,4,8,3,2,2,2,2],
[28,15,5,23,8,2,28,2,2,2,5,2,3,3,29,3,2,2,2,2,2,2,2,3,3,8,20,3,10,3,4,2,49,6,3,3,3,16,11,2],
[37,42,18,19,25,2,19,12,5,4,22,7,11,5,6,6,6,5,5,3,3,5,11,11,4,20,12,17,33,21,15,16,36,18,8,5,6,12,8,11]];

// dendrogram links: left leaf, right leaf, join height, left drop, right drop
var treeFileTop = [[2.8,23.5,1,.51,.71],[1,4.7,.51,.07,.16],[.5,1.5,.07,0,0],[2.5,6.2,.16,0,.09],[4,8,.09,.05,.04],[3.5,5,.05,0,.03],[4.5,5.5,.03,0,0],[6.5,8.5,.04,0,.02],[7.5,9.5,.02,0,0],[16.2,30.9,.71,.55,.55],[13,20.5,.55,.38,.32],[11,14.5,.38,.2,.22],[10.5,12,.2,0,.12],[11.5,12.5,.12,0,0],[13.5,15.5,.22,0,.15],[14.5,16,.15,0,.08],[15.5,16.5,.08,0,0],[18.5,23,.32,.25,.2],[17.5,19.5,.25,0,.12],[18.5,20.5,.12,0,0],[21.5,24,.2,.09,.1],[21,22,.09,0,0],[23.5,24.5,.1,0,0],[27.2,34.9,.55,.3,.43],[25.5,28.5,.3,0,.25],[27.5,29.5,.25,0,.18],[28.5,30,.18,0,.1],[29.5,30.5,.1,0,0],[32,37.5,.43,.25,.35],[31,33,.25,0,.17],[32.5,33.5,.17,0,0],[35.5,39,.35,.2,.25],[34.5,36.5,.2,0,.12],[35.5,37.5,.12,0,0],[37.5,39.5,.25,0,.12],[38.5,40.5,.12,0,0]];
var treeFileLeft = [[6.6,20.5,1,.28,.56],[2.5,11,.28,.28,.2],[.5,4,.28,0,.14],[1.5,5,.14,.03,.1],[1,2.5,.03,0,0],[3.5,6,.1,.06,.06],[3,4.5,.06,0,0],[5.5,7,.06,0,0],[7.5,8.5,.2,0,0],[9.5,11.5,.2,0,.1],[10.5,12,.1,0,.05],[11.5,12.5,.05,0,0],[12.5,13.5,.05,0,0],[15.5,27,.56,.22,.42],[14.5,16.5,.22,0,.1],[15.5,16.8,.1,0,0],[21,31,.42,.3,.33],[17.5,20,.3,0,.22],[18.5,21,.22,0,.15],[19.5,22,.15,0,.1],[21.5,23,.1,0,.05],[22.5,23.5,.05,0,0],[24.5,26.5,.33,.1,.2],[29,33,.2,.15,.18],[27.5,30,.15,0,.08],[29,31,.08,0,0],[31.5,33.5,.18,0,.1],[32.5,34.5,.1,0,0],[34.5,35.5,.12,0,0]];
var treeBatchTop = [[1.8,7,1,.71,.86],[.5,3.1,.71,0,.57],[2,4.2,.57,.38,.45],[1.5,2.5,.38,0,0],[3.5,5,.45,0,.38],[4.5,5.5,.38,0,0],[6.5,7.5,.86,0,0]];
var treeBatchLeft = [[6,21.5,1,.62,.62],[2,9.5,.62,.26,.36],[.5,2.7,.26,.1,.14],[1.5,3.5,.14,0,0],[5.5,12,.36,.14,.16],[4.5,6,.14,0,0],[8.5,12.5,.16,.1,.12],[7.5,10,.1,0,.05],[9.5,10.5,.05,0,0],[12.5,14,.12,0,.08],[13.5,14.5,.08,0,0],[17,26,.62,.33,.55],[15.5,18,.33,0,.2],[16.5,19,.2,0,.1],[18.5,19.5,.1,0,0],[22,31,.55,.25,.33],[20.5,23,.25,0,.14],[21.5,24,.14,0,.1],[23.5,25.5,.1,0,.06],[24.5,26.5,.06,0,0],[27.5,32,.33,0,.24],[29,34,.24,.14,.16],[28.5,30,.14,0,0],[31.5,34.5,.16,0,.08],[33.5,35.5,.08,0,0]];
var treeNcTop = [[.5,3,1,0,.9],[1.5,4.8,.9,0,.7],[3.2,6.5,.7,.5,.58],[2.5,4,.5,0,.48],[3.5,4.5,.48,0,0],[5.5,7,.58,0,.47],[6.5,7.5,.47,0,0]];
var treeNcLeft = [[7,22,1,.45,.6],[2.5,10,.45,.2,.3],[.5,3,.2,0,.12],[2,4,.12,.06,.06],[1.5,2.5,.06,0,0],[3.5,4.5,.06,0,0],[6.5,9.5,.3,0,.2],[7.5,11,.2,0,.12],[9,12.5,.12,.06,.08],[8.5,9.5,.06,0,0],[11.5,12.5,.08,0,0],[17,25.5,.6,.5,.55],[15,20,.5,.1,.22],[13.5,15.5,.1,0,.06],[15,16.5,.06,0,0],[18.5,21.5,.22,0,.14],[20.5,22.5,.14,0,.07],[23,28,.55,.45,.42],[23.5,25,.45,0,0],[26.5,30,.42,.2,.3],[25.5,27.5,.2,0,.12],[27.5,29.5,.12,0,0],[31,33,.3,.12,.2],[30.5,32,.12,0,.06],[33.5,35,.2,0,.1],[34.5,35.5,.1,0,0]];
var treeExprTop = [[8,29,1,.25,.85],[3.5,14,.25,.18,.2],[1,5.5,.18,.08,.12],[.5,1.5,.08,0,0],[4.5,6.5,.12,0,.07],[5.5,7.5,.07,0,0],[9,19,.2,.12,.16],[8.5,10.5,.12,0,.07],[9.5,11.5,.07,0,0],[15,23,.16,.1,.12],[12.5,17,.1,0,.07],[16.5,18,.07,0,0],[20.5,22.5,.12,0,.08],[21.5,24,.08,0,0],[24,29,.85,.4,.5],[25,28,.4,.25,.3],[26,27,.25,.1,.1],[25.5,26.5,.1,0,0],[27.5,28.5,.1,0,0],[29,33,.5,.12,.32],[29.5,30.5,.12,0,0],[31.5,35,.32,0,.22],[33,36.5,.22,.12,.14],[32.5,33.5,.12,0,0],[35.5,37.5,.14,0,0],[38.5,39.5,.3,0,0]];
var treeExprLeft = [[4.5,24,1,.8,.32],[1,13,.8,.12,.65],[.5,1.5,.12,0,0],[5,20,.65,.08,.55],[4.5,5.5,.08,0,0],[10,28,.55,.12,.25],[8.5,11.5,.12,0,.07],[9.5,12.5,.07,0,0],[18.5,22,.12,0,.08],[20.5,23,.08,0,0],[25.5,30.5,.25,.18,.18],[24.5,27,.18,0,.1],[26.5,27.5,.1,0,0],[29,32,.18,.1,.1],[28.5,29.5,.1,0,0],[31.5,32.5,.1,0,0],[33.5,37,.32,0,.1],[35.5,38,.1,0,.06],[37.5,39.5,.06,0,0]];
var treeCellTop = [[2.14,19.6,1,.51,.67],[1.03,3.2,.51,.26,.32],[.5,1.5,.26,0,0],[2.5,4.05,.32,0,.12],[3.5,4.5,.12,0,0],[8.3,30.9,.67,.28,.44],[6.2,10.4,.28,.17,.22],[5.5,7.2,.17,0,.13],[6.5,7.5,.13,0,0],[8.5,12,.22,0,.2],[9.5,15,.2,0,.18],[11,13,.15,.05,.07],[10.5,11.5,.05,0,0],[12.5,13.5,.07,0,0],[15.5,23,.16,.03,.12],[14.5,17.5,.03,0,.03],[16.5,18.5,.03,0,.02],[17.5,20.5,.02,0,.01],[19.5,21.5,.04,0,0],[21.5,25,.13,.05,.07],[22.5,23.5,.05,0,0],[24.5,25.5,.07,0,.05],[25.5,26.5,.05,0,0],[28.4,31.5,.44,.22,.41],[27.5,29,.22,0,.17],[28.5,30,.17,0,.11],[29.5,30.5,.11,0,0],[31.5,35.4,.41,0,.32],[33.4,37.4,.32,.24,.24],[32.5,34.3,.24,0,.19],[33.5,35,.19,0,.13],[34.5,35.5,.13,0,0],[36.5,38.3,.24,0,.19],[37.5,39,.19,0,.11],[38.5,39.5,.11,0,0]];
var treeCellLeft = [[5.98,24.8,1,.59,.6],[2.6,10.1,.59,.42,.55],[1.4,3.95,.42,.18,.27],[.5,1.9,.18,0,.1],[1.5,2.5,.1,0,0],[3.5,4.5,.27,0,0],[6.2,12.2,.55,.15,.54],[5.5,6.8,.15,0,.1],[6.5,7.5,.1,0,0],[9.6,13.6,.54,.18,.27],[8.5,10.5,.18,0,.13],[9.5,11,.13,0,.1],[10.5,11.5,.1,0,0],[12.5,13.8,.27,0,.25],[13.5,14.5,.25,0,0],[19,31.2,.6,.4,.44],[16,20,.4,.15,.37],[15.5,16.5,.15,0,0],[18,22.5,.37,.2,.25],[17.5,19,.2,0,.14],[18.5,20,.14,0,.08],[19.5,20.5,.08,0,0],[21.5,24,.25,0,.12],[23,24.5,.12,.05,0],[22.5,23.5,.05,0,0],[28.5,34.9,.44,.27,.3],[26.5,30,.27,.17,.24],[25.5,27,.17,0,.1],[26.5,27.5,.1,0,0],[28.5,31,.24,0,.2],[29.5,32,.2,0,.17],[30.5,32.5,.14,0,0],[31.5,33.5,.12,0,0],[34.5,35.5,.3,0,0]];

// panel E, highlighted cells and marginal histograms
var eLabels = ['15','16','17','20','21','22','26','27','28'];
var e15 = [[-.7,-1.35,.28],[-.6,-1.3,.22],[-.7,-1.5,.4,1]];
var e16 = [[.15,-.72,.17],[.25,-.55,.1],[.15,-.35,.1,1],[.8,-.2,.3,1],[-1.5,.55,.12,1],[-.2,-2.25,.12,1]];
var e17 = [[1.65,.7,.25],[1.6,.55,.28],[1.5,.4,.14],[1.4,.5,.35,1],[-1.1,.55,.03,1],[.55,-.4,.06,1]];
var e20 = [[-1.72,.68,.1],[-1.6,.62,.1],[-1.45,.57,.07],[-1.28,.52,.03]];
var e21 = [[1,-.5,.16],[1.02,-.65,.2],[1,-.1,.25,1],[.3,-.9,.2,1],[-.4,-2,.1,1]];
var e22 = [[1.35,.05,.27],[1.45,0,.2],[1.3,.25,.4,1],[.2,-.7,.15,1]];
var e26 = [[-.05,-2.6,.11],[-.15,-2.55,.12],[-.2,-2.5,.22,1]];
var e27 = [[-.22,.22,.13],[-.3,.5,.15,1],[.85,.15,.15,1],[0,-.3,.3,1],[-.4,-2.1,.12,1],[-.8,-.9,.1,1]];
var e28 = [[1.25,.05,.25],[1.3,.15,.3],[1.35,.3,.2],[1.35,.2,.5,1],[.5,-.1,.15,1],[-1,.5,.05,1]];
var eBlobs = [e15,e16,e17,e20,e21,e22,e26,e27,e28];
var top15 = [[-.95,.05],[-.82,.55],[-.7,1],[-.58,.8],[-.46,.35],[-.34,.1],[-.22,.04],[.9,.02]];
var top16 = [[-1.5,.04],[-1.38,.03],[.02,.45],[.14,1],[.26,.95],[.38,.3],[.5,.08],[1.4,.03]];
var top17 = [[1.25,.08],[1.37,.2],[1.49,.45],[1.61,.7],[1.73,1],[1.85,.75],[1.97,.3],[.55,.03]];
var top20 = [[-1.85,.08],[-1.73,.55],[-1.61,1],[-1.49,.75],[-1.37,.35],[-1.25,.15],[-1.13,.05],[1.2,.03]];
var top21 = [[.8,.1],[.92,.15],[1.04,.95],[1.16,1],[1.28,.12],[-.4,.03],[.5,.03]];
var top22 = [[.95,.04],[1.07,.1],[1.19,.2],[1.31,.6],[1.43,1],[1.55,.65],[1.67,.08]];
var top26 = [[-.42,.1],[-.3,.25],[-.18,.6],[-.06,.5],[.06,1],[.18,.12]];
var top27 = [[-.42,.1],[-.3,1],[-.18,.45],[-.06,.08],[.85,.03]];
var top28 = [[.85,.08],[.97,.15],[1.09,.55],[1.21,1],[1.33,.65],[1.45,.3],[1.57,.08]];
var eTop = [top15,top16,top17,top20,top21,top22,top26,top27,top28];
var side15 = [[-1.1,.35],[-1.25,1],[-1.4,.55],[-1.55,.3],[-1.7,.1]];
var side16 = [[.6,.05],[0,.05],[-.15,.08],[-.3,.15],[-.45,.3],[-.57,1],[-.7,.65],[-.85,.8],[-.97,.2]];
var side17 = [[.95,.3],[.8,.6],[.65,1],[.5,.75],[.35,.4],[.2,.2],[.05,.08]];
var side20 = [[.82,.3],[.7,1],[.58,.5]];
var side21 = [[-.3,.1],[-.42,.3],[-.55,.6],[-.67,1],[-.8,.45],[-.92,.1]];
var side22 = [[.5,.1],[.35,.2],[.2,.45],[.05,1],[-.1,.75],[-.25,.2],[-.4,.08]];
var side26 = [[-2.2,.1],[-2.35,.35],[-2.5,.55],[-2.63,1],[-2.78,.4]];
var side27 = [[.4,.2],[.25,1],[.1,.2]];
var side28 = [[.65,.08],[.5,.2],[.35,.4],[.2,.6],[.05,1],[-.1,.7],[-.25,.15],[-.4,.05]];
var eSide = [side15,side16,side17,side20,side21,side22,side26,side27,side28];

// panel F, expression per cluster 1..36
var fNames = ['CD45','CD57','CD163','CD4'];
var fCD45 = [4.2,4,3.3,4.3,4.2,3.6,4.4,4.3,3.2,3.7,3.9,3.6,3.7,4.6,3.8,4.4,3.2,3.6,4.3,4.2,3.2,3.6,3.6,3.6,2.8,2.7,2.6,2.8,3.8,3,2.7,3.2,4.6,3.3,4,3.6];
var fCD57 = [1,.3,.1,.05,.05,.05,1.5,1.5,.05,.1,.05,.05,1.1,1,.7,.9,.05,.05,.5,.4,.3,.05,.3,.4,.1,.05,.2,.05,.05,.3,.05,.05,.05,.05,.05,.05];
var fCD163 = [.2,.1,.1,.1,.05,.1,.8,.6,.1,.1,.05,.05,.1,.1,.1,.1,.05,.05,.05,.05,.4,.05,.1,1,.1,.2,.1,.3,.6,1.5,.1,.2,.5,.4,.7,.7];
var fCD4 = [.2,.3,.2,.4,3.2,3,.4,.2,.2,.2,3.1,3,.2,.3,.2,2.6,3,3,.1,.3,.4,3,2.6,1,.9,.3,.2,.4,.6,1,.2,.2,.6,.5,.8,.9];
var fValues = [fCD45,fCD57,fCD163,fCD4];
var fSpread = [.42,.06,.1,.16];
var fMin = [1.92,0,0,0];
var fMax = [5.12,5.45,7.18,5.54];
var fTicks = [[2,3,4,5],[0,1,2,3,4,5],[0,2,4,6],[0,1,2,3,4,5]];
var fDots = [[.15,1.51],[-.34,1.09],[-.29,.74],[-2.55,1.15],[-2.46,.74],[-2.5,.29],[-2.12,.29],[-1.78,.29],[-.5,.29],[-.24,.29],[-.15,.06],[.1,.4],[.36,0],[.53,-.34],[.19,-.4],[-.75,-.63],[-1.95,-.23],[.02,-.06],[.79,-.52],[.44,-.69],[-.53,-.92]];
var fDotValue = [3.6,.5,.6,.9];

var uTicksX = [-2,-1,0,1,2];
var uTicksY = [-3,-2,-1,0,1,2];
var reds = ['#FFF5F0','#FEE0D2','#FCBBA1','#FC9272','#FB6A4A','#EF3B2C','#CB181D','#A50F15','#67000D'];
var greens = ['#F7FCF5','#E5F5E0','#C7E9C0','#A1D99B','#74C476','#41AB5D','#238B45','#006D2C'];
var rdylbu = ['#4575B4','#91BFDB','#E0F3F8','#FFFFBF','#FEE090','#FC8D59','#D73027'];
var magma = ['#FCFDBF','#FEC98D','#FD9A6A','#F1605D','#CD4071','#9E2F7F','#721F81','#440F76','#180F3D','#000004'];
var FONT = 'Liberation Sans';

var grids = [], xAxes = [], yAxes = [], series = [], vms = [], gfx = [];

function add_grid(x0, y0, x1, y1, xa, ya){
	var i = grids.length;
	grids.push({left: x0, top: y0, width: x1 - x0, height: y1 - y0});
	xa.gridIndex = i;
	ya.gridIndex = i;
	xAxes.push(xa);
	yAxes.push(ya);
	return i;
}

function hid(min, max, inv){
	return {type: 'value', min: min, max: max, inverse: !!inv, show: false};
}

function txt(x, y, s, size, o){
	o = o || {};
	gfx.push({type: 'text', x: x, y: y, silent: true, style: {text: s, fill: o.color || '#000', font: (o.bold ? 'bold ' : '') + size + 'px "' + FONT + '"', textAlign: o.align || 'left', textVerticalAlign: 'middle'}});
}

function swatch(x, y, w, h, color){
	gfx.push({type: 'rect', silent: true, shape: {x: x, y: y, width: w, height: h}, style: {fill: color}});
}

var minus = function(v){ return String(v).replace('-', '\u2212'); };

function umap_axes(x0, y0, x1, y1, xr, yr, st){
	var line = {color: st.line || '#000', width: st.lw};
	function axis(r, ticks, name, gap){
		return {type: 'value', min: r[0], max: r[1], name: name, nameLocation: 'middle', nameGap: gap,
			nameTextStyle: {fontSize: st.name, color: '#111', fontFamily: FONT},
			axisLine: {onZero: false, lineStyle: line},
			axisTick: {length: st.tl, customValues: ticks, lineStyle: {color: st.line || '#000', width: 0.8}},
			axisLabel: {fontSize: st.tick, color: '#4d4d4d', fontFamily: FONT, margin: st.m, customValues: ticks, formatter: st.fmt || minus},
			splitLine: {show: false}};
	}
	return add_grid(x0, y0, x1, y1, axis(xr, st.xt || uTicksX, st.xname, st.xgap), axis(yr, st.yt || uTicksY, st.yname, st.ygap));
}

// speckle tile: a fixed dot list, wrapped, gives the look of thousands of single cells
var speckDots = [[1,2],[5,0],[9,3],[14,1],[19,2],[22,5],[3,6],[7,7],[12,5],[17,6],[20,9],[1,10],[5,11],[10,9],[15,10],[23,11],[3,14],[8,13],[13,14],[18,13],[21,15],[0,17],[6,16],[11,18],[16,16],[20,19],[2,20],[7,21],[12,22],[17,20],[22,22],[4,23],[9,19],[14,20],[19,23],[1,13],[10,15],[15,4],[6,3],[23,18]];
var mixTile = ['0122503610','1065210014','5101372105','1620015016','0057120631','0316002570','6105213002','1170615013','0513016105','3106502176'];
var tiles = {};

function speck(color, dot, step){
	var key = color + dot + step;
	if (tiles[key]) return tiles[key];
	var cv = document.createElement('canvas');
	cv.width = 24; cv.height = 24;
	var ctx = cv.getContext('2d');
	for (var i = 0; i < speckDots.length; i += step){
		ctx.fillStyle = color == 'mix' ? batchColors[+mixTile[i % 10][(i * 3) % 10]] : color;
		ctx.fillRect(speckDots[i][0], speckDots[i][1], dot, dot);
	}
	tiles[key] = {image: cv, repeat: 'repeat'};
	return tiles[key];
}

function mix_fill(){
	if (tiles.solidMix) return tiles.solidMix;
	var cv = document.createElement('canvas');
	cv.width = 10; cv.height = 10;
	var ctx = cv.getContext('2d');
	mixTile.forEach(function(row, r){
		row.split('').forEach(function(c, i){
			ctx.fillStyle = batchColors[+c];
			ctx.fillRect(i, r, 1, 1);
		});
	});
	tiles.solidMix = {image: cv, repeat: 'repeat'};
	return tiles.solidMix;
}

function blob_data(){
	var out = [];
	drawOrder.forEach(function(id){
		clusterBlobs[id - 1].forEach(function(b){ out.push([b[0], b[1], b[2], b[3] || 0, id]); });
	});
	return out;
}

function list_data(list, id){
	return list.map(function(b){ return [b[0], b[1], b[2], b[3] || 0, id || 0]; });
}

function blob_series(idx, data, o){
	var grow = o.grow || 0;
	series.push({type: 'custom', name: o.name, xAxisIndex: idx, yAxisIndex: idx, clip: false, silent: true, data: data,
		itemStyle: o.name ? {color: o.color(0)} : undefined,
		renderItem: function(p, api){
			var c = api.coord([api.value(0), api.value(1)]);
			var r = api.size([api.value(2), 0])[0];
			var thin = api.value(3) == 1;
			var id = api.value(4);
			var col = o.color(id);
			var kids = [];
			function disc(rad, fill, op){
				kids.push({type: 'circle', shape: {cx: c[0], cy: c[1], r: rad}, style: {fill: fill, opacity: op || 1}});
			}
			if (o.halo){
				if (!thin) disc(r * o.halo * 1.14 + grow, o.sparse ? o.sparse(col, true) : speck(col, o.dot, 3));
				disc(thin ? r : r * o.halo + grow, o.sparse ? o.sparse(col, thin) : speck(col, o.dot, thin ? 3 : 1));
			}
			if (!thin){
				disc(r + grow, o.solid ? o.solid(col) : col, o.opacity);
				if (o.mottle) o.mottle(id).forEach(function(f){ disc(r + grow, f); });
			}
			return {type: 'group', children: kids};
		}});
}

function heat(x0, y0, x1, y1, rows, cols, vals, scale, colors, vmax, o){
	var data = [];
	vals.forEach(function(row, r){
		row.forEach(function(v, c){ data.push([c, r, v / scale]); });
	});
	var colNames = cols || vals[0].map(function(v, i){ return String(i); });
	var i = add_grid(x0, y0, x1, y1,
		{type: 'category', data: colNames, axisLine: {show: false}, axisTick: {show: false}, splitLine: {show: false},
			axisLabel: {show: !!cols, interval: 0, rotate: -90, fontSize: o.colFont, color: o.labelColor || '#222', fontFamily: FONT, margin: o.colMargin || 3}},
		{type: 'category', data: rows, inverse: true, position: 'right', axisLine: {show: false}, axisTick: {show: false}, splitLine: {show: false},
			axisLabel: {interval: 0, fontSize: o.rowFont, color: '#222', fontFamily: FONT, margin: o.rowMargin || 2}});
	series.push({type: 'heatmap', xAxisIndex: i, yAxisIndex: i, data: data, progressive: 0, silent: true, emphasis: {disabled: true},
		itemStyle: o.border ? {borderColor: o.border, borderWidth: 1} : {borderWidth: 0}});
	vms.push({show: false, seriesIndex: series.length - 1, min: 0, max: vmax, dimension: 2, inRange: {color: colors}});
}

function dendro(x0, y0, x1, y1, links, n, side){
	var i = side ? add_grid(x0, y0, x1, y1, hid(0, 1, true), hid(0, n, true)) : add_grid(x0, y0, x1, y1, hid(0, n), hid(0, 1));
	series.push({type: 'custom', xAxisIndex: i, yAxisIndex: i, clip: false, silent: true, data: links,
		renderItem: function(p, api){
			var a = api.value(0), b = api.value(1), h = api.value(2), ha = api.value(3), hb = api.value(4);
			var pts = side ? [[ha, a], [h, a], [h, b], [hb, b]] : [[a, ha], [a, h], [b, h], [b, hb]];
			return {type: 'polyline', shape: {points: pts.map(function(q){ return api.coord(q); })}, style: {stroke: '#444', lineWidth: 1, fill: null}};
		}});
}

function strip(x0, y0, x1, y1, codes, colors){
	var i = add_grid(x0, y0, x1, y1, hid(0, codes.length), hid(0, 1));
	series.push({type: 'custom', xAxisIndex: i, yAxisIndex: i, clip: false, silent: true,
		data: codes.map(function(c, k){ return [k, c]; }),
		renderItem: function(p, api){
			var a = api.coord([api.value(0), 0]), b = api.coord([api.value(0) + 1, 1]);
			return {type: 'rect', shape: {x: a[0], y: b[1], width: b[0] - a[0] + 0.3, height: a[1] - b[1]}, style: {fill: colors[api.value(1)]}};
		}});
}

function colorbar(x0, y0, x1, y1, min, max, ticks, colors, o){
	var i = add_grid(x0, y0, x1, y1, hid(0, 1),
		{type: 'value', min: min, max: max, position: 'right', axisLine: {show: false}, splitLine: {show: false},
			axisTick: o.ticks ? {show: true, inside: true, length: x1 - x0, customValues: ticks, lineStyle: {color: '#fff', width: 0.6}} : {show: false},
			axisLabel: {fontSize: o.font, color: '#222', fontFamily: FONT, margin: o.margin || 3, customValues: ticks}});
	var stops = colors.map(function(c, k){ return {offset: 1 - k / (colors.length - 1), color: c}; }).reverse();
	series.push({type: 'custom', xAxisIndex: i, yAxisIndex: i, clip: false, silent: true, z: 1, data: [[0, min, 1, max]],
		renderItem: function(p, api){
			var a = api.coord([api.value(0), api.value(1)]), b = api.coord([api.value(2), api.value(3)]);
			return {type: 'rect', shape: {x: a[0], y: b[1], width: b[0] - a[0], height: a[1] - b[1]}, style: {fill: {type: 'linear', x: 0, y: 0, x2: 0, y2: 1, colorStops: stops}}};
		}});
}

function anno_legend(x, yControl, yBatch, labelX){
	txt(x, yControl - 4.5, 'control', 7, {bold: true, color: '#222'});
	swatch(x, yControl, 10, 10, '#000');
	swatch(x, yControl + 10, 10, 10, '#ccc');
	txt(labelX, yControl + 5, 'TRUE', 7, {color: '#333'});
	txt(labelX, yControl + 15, 'FALSE', 7, {color: '#333'});
	txt(x, yBatch - 4.5, 'batch', 7, {bold: true, color: '#222'});
	legendOrder.forEach(function(b, k){
		swatch(x, yBatch + k * 10, 10, 10, batchColors[b]);
		txt(labelX, yBatch + k * 10 + 5, batchNames[b], 6.5, {color: '#333'});
	});
}

// ---- panel letters
txt(0, 16, 'A', 24, {bold: true});
txt(785, 14, 'B', 24, {bold: true});
txt(2, 776, 'C', 24, {bold: true});
txt(785, 775, 'D', 24, {bold: true});
txt(2, 1541, 'E', 24, {bold: true});
txt(785, 1541, 'F', 24, {bold: true});

var allBlobs = blob_data();

// ---- panel A
var colX = [54.6, 231.8, 408.9];
var rowY = [76.9, 253.4, 429.3];
batchNames.forEach(function(name, k){
	var cx = colX[k % 3], cy = rowY[Math.floor(k / 3)];
	var idx = umap_axes(cx, cy, cx + 135.5, cy + 117.8, [-2.89, 2.15], [-3.14, 2.48],
		{lw: 1.3, name: 13, tick: 10.5, tl: 3, m: 3, xname: 'UMAP1', yname: 'UMAP2', xgap: 14.7, ygap: 19});
	blob_series(idx, allBlobs, {color: function(){ return batchColors[k]; }, halo: 1.18, dot: 1, grow: 1.2});
	txt(cx, cy - 14.4, name, 13);
});
var aLarge = umap_axes(412.4, 404.8, 665, 731.3, [-2.86, 2.3], [-3.15, 2.55],
	{lw: 1, name: 8, tick: 5.5, tl: 2, m: 2, xname: 'UMAP1', yname: 'UMAP2', xgap: 9.7, ygap: 13});
blob_series(aLarge, allBlobs, {color: function(){ return 'mix'; }, halo: 1.15, dot: 1, grow: 3, solid: mix_fill, sparse: function(c, thin){ return speck('mix', 1, thin ? 3 : 1); }});
batchNames.forEach(function(name, k){
	blob_series(aLarge, list_data(batchSpots[k]), {name: name, color: function(){ return batchColors[k]; }, halo: 1.1, dot: 1, opacity: 0.75});
});
txt(676, 518, 'as.factor(pool_id)', 7, {color: '#333'});

// ---- panel B
txt(983.5, 31, 'File x Cluster: cell freq. (norm\u2212log1p)', 8.8, {bold: true, align: 'center', color: '#222'});
dendro(868.3, 37, 1100.4, 74, treeFileTop, 41, false);
dendro(832, 91.7, 868.3, 375, treeFileLeft, 36, true);
strip(868.3, 74, 1100.4, 81.7, freqFileControl, ['#ccc', '#000']);
strip(868.3, 83.3, 1100.4, 90.7, freqFileBatch, batchColors);
txt(1102.3, 78, 'control', 7, {bold: true, color: '#222'});
txt(1102.3, 87, 'batch', 7, {bold: true, color: '#222'});
heat(868.3, 91.7, 1100.4, 375, freqFileRows, null, freqFile, 10, reds, 3.2, {rowFont: 6.5});
colorbar(1127, 74, 1135, 180, 0, 3.2, [0, .5, 1, 1.5, 2, 2.5, 3], reds, {font: 6.5});
anno_legend(1150, 81.7, 116.7, 1161);

txt(1379.5, 39, 'Batch x Cluster: cell freq. (norm\u2212log1p)', 8.8, {bold: true, align: 'center', color: '#222'});
dendro(1247.3, 45, 1513.2, 80, treeBatchTop, 8, false);
dendro(1211.8, 80, 1247.3, 343.3, treeBatchLeft, 36, true);
heat(1247.3, 80, 1513.2, 343.3, freqBatchRows, freqBatchCols, freqBatch, 10, reds, 3.2, {rowFont: 6, colFont: 5.5});
colorbar(1527, 80, 1534, 183, 0, 3.2, [0, .5, 1, 1.5, 2, 2.5, 3], reds, {font: 6.5});

txt(981, 389, 'File x Cluster: expression (arcsinh\u2212log1p)', 8.8, {bold: true, align: 'center', color: '#222'});
dendro(884.2, 395, 1077.5, 432.7, treeExprTop, 41, false);
dendro(847, 449.5, 884.2, 730, treeExprLeft, 40, true);
strip(884.2, 432.7, 1077.5, 440, exprFileControl, ['#ccc', '#000']);
strip(884.2, 440.7, 1077.5, 448.3, exprFileBatch, batchColors);
txt(1080, 436.5, 'control', 7, {bold: true, color: '#222'});
txt(1080, 444.5, 'batch', 7, {bold: true, color: '#222'});
heat(884.2, 449.5, 1077.5, 730, exprFileRows, null, exprFile, 10, greens, 2.7, {rowFont: 7, rowMargin: 2.5});
colorbar(1140.8, 431.7, 1148, 538, 0, 2.7, [0, .5, 1, 1.5, 2, 2.5], greens, {font: 6.5});
anno_legend(1162, 439, 474, 1173.5);

txt(1393.4, 396, 'Batch x Cluster: cell freq. (norm\u2212log1p) (Non\u2212controls only)', 8.8, {bold: true, align: 'center', color: '#222'});
dendro(1261.4, 401.7, 1527, 437, treeNcTop, 8, false);
dendro(1225.7, 437, 1261.4, 700.7, treeNcLeft, 36, true);
heat(1261.4, 437, 1527, 700.7, freqNcRows, freqNcCols, freqNc, 10, reds, 3.2, {rowFont: 6, colFont: 5.5});
colorbar(1540.3, 437, 1547, 539, 0, 3.2, [0, .5, 1, 1.5, 2, 2.5, 3], reds, {font: 6, margin: 2});

// ---- panel C
var cIdx = umap_axes(71, 804.4, 748, 1481.7, [-2.852, 2.297], [-3.16, 2.55],
	{lw: 2, name: 16, tick: 13, tl: 4, m: 5, xname: 'UMAP1', yname: 'UMAP2', xgap: 20, ygap: 27});
blob_series(cIdx, allBlobs, {color: function(id){ return clusterColors[id - 1]; }, halo: 1.12, dot: 1.5, grow: 1});
function label_series(list, color){
	series.push({type: 'scatter', xAxisIndex: cIdx, yAxisIndex: cIdx, symbolSize: 0, silent: true, z: 5, data: list,
		label: {show: true, position: 'inside', color: color, fontSize: 21, fontFamily: FONT, formatter: function(p){ return p.value[2]; }}});
}
label_series(clusterLabels, '#111');
label_series(clusterLabelsWhite, '#fff');

// ---- panel D
txt(1163, 802, 'Archsinh\u2212transformed expression (unscaled)', 18.6, {bold: true, align: 'center'});
dendro(870.8, 814.3, 1456, 889.5, treeCellTop, 40, false);
dendro(795, 890, 870.8, 1405, treeCellLeft, 36, true);
heat(870.8, 890, 1456, 1405, exprRows, exprCols, exprCluster, 10, rdylbu, 6, {rowFont: 14.5, colFont: 14, rowMargin: 4, colMargin: 3, border: '#a3a3a3', labelColor: '#111'});
colorbar(1487, 890, 1500.6, 1107, 0, 6, [1, 2, 3, 4, 5, 6], rdylbu, {font: 14, margin: 4});

// ---- panel E
eLabels.forEach(function(label, k){
	var dx = (k % 3) * 159.4, dy = Math.floor(k / 3) * 160;
	var idx = umap_axes(34.3 + dx, 1589 + dy, 154.6 + dx, 1701.3 + dy, [-3.07, 2.51], [-3.39, 2.75],
		{lw: 1, line: '#555', name: 4.5, tick: 4, tl: 1.5, m: 1.5, xname: 'UMAP1', yname: 'UMAP2', xgap: 4, ygap: 6, xt: [-3, -2, -1, 0, 1, 2], fmt: minus});
	blob_series(idx, allBlobs.filter(function(b){ return b[3] != 1; }), {color: function(){ return '#EEEFF1'; }, grow: 1.5});
	blob_series(idx, list_data(eBlobs[k]), {color: function(){ return '#0a0a0a'; }, halo: 1.1, dot: 1});
	txt(34.3 + dx, 1718.7 + dy, label, 7, {color: '#333'});

	var t = add_grid(40 + dx, 1567.7 + dy, 148.8 + dx, 1588 + dy,
		{type: 'value', min: -2.807, max: 2.24, axisLine: {onZero: false, lineStyle: {color: '#666', width: 1}}, axisTick: {show: false}, axisLabel: {show: false}, splitLine: {show: false}}, hid(0, 1));
	series.push({type: 'custom', xAxisIndex: t, yAxisIndex: t, clip: false, silent: true, data: eTop[k],
		renderItem: function(p, api){
			var a = api.coord([api.value(0) - .06, 0]), b = api.coord([api.value(0) + .06, api.value(1)]);
			return {type: 'rect', shape: {x: a[0], y: b[1], width: b[0] - a[0], height: a[1] - b[1]}, style: {fill: '#E0161F', stroke: '#222', lineWidth: .5}};
		}});
	var s = add_grid(156 + dx, 1594 + dy, 177.8 + dx, 1695.7 + dy, hid(0, 1),
		{type: 'value', min: -3.08, max: 2.48, axisLine: {onZero: false, lineStyle: {color: '#666', width: 1}}, axisTick: {show: false}, axisLabel: {show: false}, splitLine: {show: false}});
	series.push({type: 'custom', xAxisIndex: s, yAxisIndex: s, clip: false, silent: true, data: eSide[k],
		renderItem: function(p, api){
			var a = api.coord([0, api.value(0) - .07]), b = api.coord([api.value(1), api.value(0) + .07]);
			return {type: 'rect', shape: {x: a[0], y: b[1], width: b[0] - a[0], height: a[1] - b[1]}, style: {fill: '#E0161F', stroke: '#222', lineWidth: .5}};
		}});
});

// ---- panel F
function magma_at(t){
	return echarts.color.lerp(Math.max(0, Math.min(1, t)), magma);
}
fNames.forEach(function(name, k){
	var dx = (k % 2) * 268.4, dy = Math.floor(k / 2) * 235.3;
	var idx = umap_axes(836.6 + dx, 1592 + dy, 984.5 + dx, 1756 + dy, [-2.82, 2.27], [-3.14, 2.5],
		{lw: 1.3, line: '#222', name: 14.5, tick: 12.5, tl: 3, m: 4, xname: 'UMAP\u22121', yname: 'UMAP\u22122', xgap: 19, ygap: 23, fmt: function(v){ return String(v); }});
	var scale = function(v){ return magma_at((v - fMin[k]) / (fMax[k] - fMin[k])); };
	blob_series(idx, allBlobs.filter(function(b){ return b[3] != 1; }), {color: function(id){ return scale(fValues[k][id - 1]); }, grow: 3.5, opacity: 0.95,
		mottle: function(id){ var v = fValues[k][id - 1]; return [speck(scale(v + fSpread[k]), 4, 2), speck(scale(v - fSpread[k]), 3, 3)]; }});
	series.push({type: 'scatter', xAxisIndex: idx, yAxisIndex: idx, silent: true, symbolSize: 6.5, data: fDots,
		itemStyle: {color: scale(fDotValue[k]), opacity: 0.4}});
	txt(836.6 + dx, 1576 + dy, name, 16.5);
	txt(1007 + dx, 1615 + dy, 'exp', 14);
	colorbar(1006.8 + dx, k < 2 ? 1627.7 : 1863, 1029.6 + dx, k < 2 ? 1740.7 : 1975, fMin[k], fMax[k], fTicks[k], magma, {font: 13, ticks: true, margin: 3});
});

var myChart = echarts.init(document.getElementById('chart'), null, {renderer: 'canvas'});
myChart.setOption({
	animation: false,
	backgroundColor: '#fff',
	textStyle: {fontFamily: FONT},
	legend: {orient: 'vertical', left: 678, top: 528, data: batchNames, icon: 'circle', itemWidth: 6, itemHeight: 6, itemGap: 6, selectedMode: false, textStyle: {fontSize: 6, color: '#444', fontFamily: FONT}},
	grid: grids,
	xAxis: xAxes,
	yAxis: yAxes,
	visualMap: vms,
	series: series,
	graphic: {elements: gfx}
});
</script>
</body>
</html>
